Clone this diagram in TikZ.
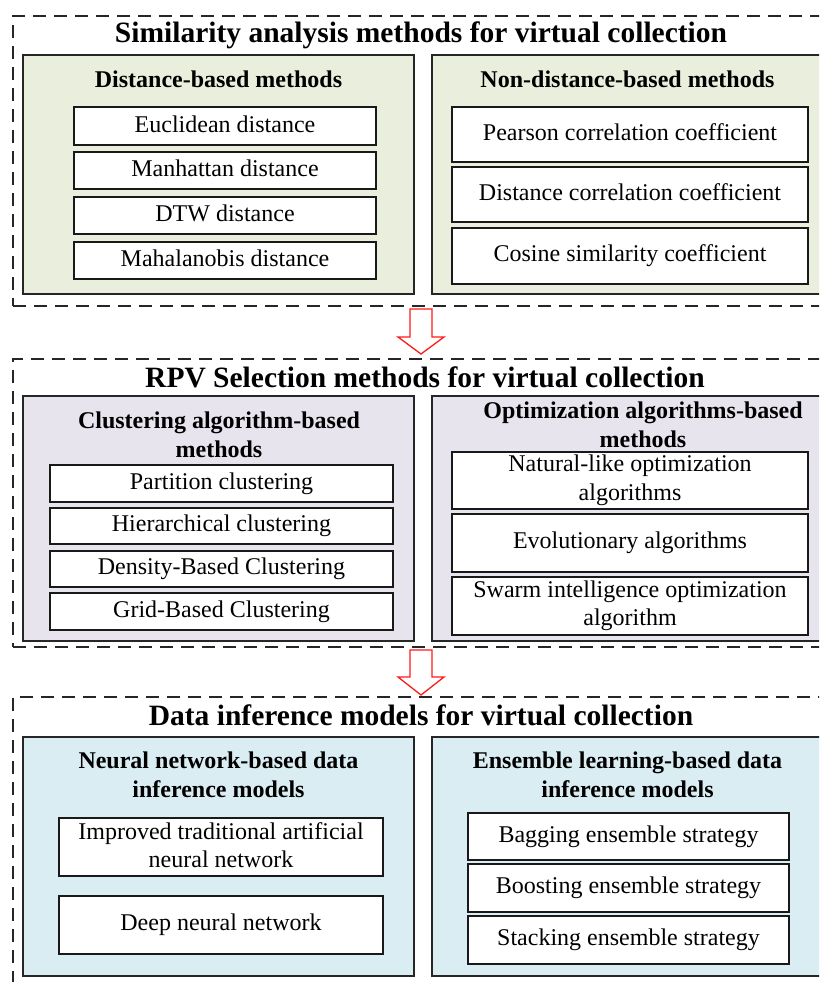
\documentclass[tikz,border=0pt]{standalone}
\usepackage{fontspec}
\setmainfont{Liberation Serif}
\definecolor{pgreen}{HTML}{E9EFDC}
\definecolor{ppurple}{HTML}{E7E4EE}
\definecolor{pblue}{HTML}{DAEDF3}
\definecolor{arrred}{HTML}{FF1A1A}
\newcommand\ms{\rule[-4pt]{0pt}{19pt}}
\newcommand\pbox[7]{\node[#6, anchor=north west, minimum width={#4pt-#2pt}, minimum height={#5pt-#3pt}] (#1) at (#2,#3) {#7};}
\begin{document}
\begin{tikzpicture}[x=1pt,y=-1pt,
  group/.style={draw=black!85, dash pattern=on 13pt off 8pt, line width=1.4pt, inner sep=0pt, outer sep=0pt},
  panel/.style={draw=black!85, line width=1.8pt, inner sep=0pt, outer sep=0pt},
  item/.style={draw=black!90, fill=white, line width=1.8pt, font=\fontsize{24}{28.5}\selectfont, align=center, inner sep=0pt, outer sep=0pt},
  title/.style={font=\fontsize{29.5}{34}\selectfont\bfseries, anchor=base, inner sep=0pt},
  subtitle/.style={font=\fontsize{24}{29}\selectfont\bfseries, align=center, anchor=base, inner sep=0pt},
  blockarrow/.style={draw=arrred, fill=white, line width=1.3pt, line join=miter}]
\useasboundingbox (0,0) rectangle (819,982);
\clip (0,0) rectangle (819,982);
\fill[white] (0,0) rectangle (819,982);

% ---------- group 1 ----------
\pbox{g1}{13}{16}{840}{306}{group}{}
\pbox{p11}{23}{55}{414}{294}{panel,fill=pgreen}{}
\pbox{p12}{432}{55}{840}{294}{panel,fill=pgreen}{}
\node[title] (t1) at (421,43) {Similarity analysis methods for virtual collection};
\node[subtitle] (s11) at (218.5,87) {Distance-based methods};
\node[subtitle] (s12) at (627.5,87) {Non-distance-based methods};
\pbox{a1}{74}{107}{376}{145}{item}{\ms Euclidean distance}
\pbox{a2}{74}{152}{376}{189}{item}{\ms Manhattan distance}
\pbox{a3}{74}{197}{376}{234}{item}{\ms DTW distance}
\pbox{a4}{74}{242}{376}{279}{item}{\ms Mahalanobis distance}
\pbox{b1}{452}{107}{808}{162}{item}{\ms Pearson correlation coefficient}
\pbox{b2}{452}{167}{808}{222}{item}{\ms Distance correlation coefficient}
\pbox{b3}{452}{228}{808}{284}{item}{\ms Cosine similarity coefficient}

% ---------- arrow 1 ----------
\draw[blockarrow] (410,309) -- (432,309) -- (432,337) -- (444,337) -- (421,354) -- (398,337) -- (410,337) -- cycle;

% ---------- group 2 ----------
\pbox{g2}{13}{359}{840}{647}{group}{}
\pbox{p21}{23}{396}{414}{641}{panel,fill=ppurple}{}
\pbox{p22}{432}{396}{840}{641}{panel,fill=ppurple}{}
\node[title] (t2) at (425,387) {RPV Selection methods for virtual collection};
\node[subtitle] (s21) at (219,457) {Clustering algorithm-based\\methods};
\node[subtitle] (s22) at (643,447) {Optimization algorithms-based\\methods};
\pbox{c1}{50}{465}{393}{502}{item}{\ms Partition clustering}
\pbox{c2}{50}{508}{393}{544}{item}{\ms Hierarchical clustering}
\pbox{c3}{50}{551}{393}{587}{item}{\ms Density-Based Clustering}
\pbox{c4}{50}{593}{393}{630}{item}{\ms Grid-Based Clustering}
\pbox{d1}{452}{452}{808}{509}{item}{\ms Natural-like optimization\\algorithms\ms}
\pbox{d2}{452}{514}{808}{572}{item}{\ms Evolutionary algorithms}
\pbox{d3}{452}{577}{808}{635}{item}{\ms Swarm intelligence optimization\\algorithm\ms}

% ---------- arrow 2 ----------
\draw[blockarrow] (410,650) -- (432,650) -- (432,677) -- (444,677) -- (421,695) -- (398,677) -- (410,677) -- cycle;

% ---------- group 3 ----------
\pbox{g3}{13}{697}{840}{995}{group}{}
\pbox{p31}{23}{737}{414}{976}{panel,fill=pblue}{}
\pbox{p32}{432}{737}{840}{976}{panel,fill=pblue}{}
\node[title] (t3) at (421,725) {Data inference models for virtual collection};
\node[subtitle] (s31) at (218.5,797) {Neural network-based data\\inference models};
\node[subtitle] (s32) at (627.5,797) {Ensemble learning-based data\\inference models};
\pbox{e1}{59}{818}{383}{876}{item}{\ms Improved traditional artificial\\neural network\ms}
\pbox{e2}{59}{896}{383}{954}{item}{\ms Deep neural network}
\pbox{f1}{468}{813}{789}{860}{item}{\ms Bagging ensemble strategy}
\pbox{f2}{468}{864}{789}{912}{item}{\ms Boosting ensemble strategy}
\pbox{f3}{468}{916}{789}{964}{item}{\ms Stacking ensemble strategy}
\end{tikzpicture}
\end{document}
